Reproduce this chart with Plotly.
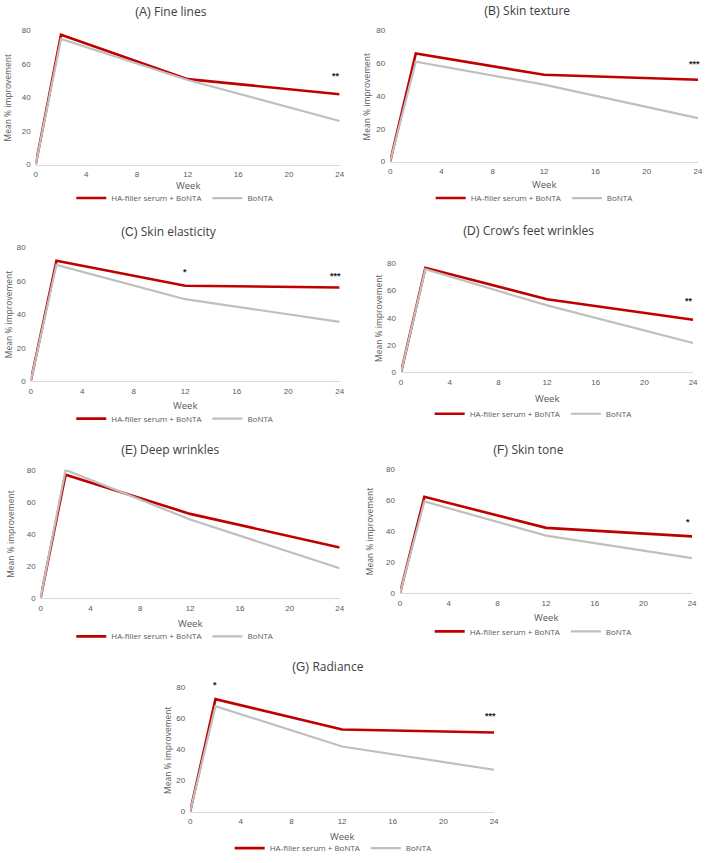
import plotly.graph_objects as go

weeks = [0, 2, 12, 24]
x_ticks = [0, 4, 8, 12, 16, 20, 24]
y_ticks = [0, 20, 40, 60, 80]

panel_letters = ["(A)", "(B)", "(C)", "(D)", "(E)", "(F)", "(G)"]
panel_names = ["Fine lines", "Skin texture", "Skin elasticity", "Crow\u2019s feet wrinkles",
               "Deep wrinkles", "Skin tone", "Radiance"]

ha_serum = [
    [0, 77.5, 51, 42],
    [0, 66, 53, 50],
    [0, 72, 57, 56],
    [0, 76.5, 53.5, 38.5],
    [0, 77, 52.5, 31.5],
    [0, 62, 42, 36.5],
    [0, 72.5, 53, 51],
]
bonta = [
    [0, 75, 50.5, 26],
    [0, 61, 47, 26.5],
    [0, 69.5, 49, 35.5],
    [0, 75.5, 49, 21.5],
    [0, 80, 49, 18.5],
    [0, 59, 37, 22.5],
    [0, 68, 42, 27],
]
# significance marks: (panel index, week, y value, text)
sig_marks = [
    (0, 24, 53, "**"),
    (1, 24, 59.5, "***"),
    (2, 12, 65, "*"),
    (2, 24, 63, "***"),
    (3, 24, 52, "**"),
    (5, 24, 46, "*"),
    (6, 2, 80, "*"),
    (6, 24, 61.5, "***"),
]

W, H = 709, 863
# plot areas in pixels: x0, x1, ytop, ybottom
boxes = [
    (34, 341, 27, 163),
    (392, 703, 27, 160),
    (29, 341, 247, 383),
    (403, 698, 263, 374),
    (39, 341, 473, 603),
    (402, 697, 472, 598),
    (190, 497, 694, 820),
]
titles_pos = [(171, 8), (530, 7), (169, 231), (532, 230), (170, 452), (532, 452), (329, 673)]
legend_pos = [(175, 197), (538, 197), (175, 421), (537, 416), (175, 642), (537, 637), (335, 857)]
ytitle_x = [6, 368, 6, 380, 9, 372, 167]
week_y = [184, 183, 408, 401, 629, 623, 845]

RED = "#C00000"
GRAY = "#BFBFBF"
TXT = "#595959"

fig = go.Figure()
layout = {}
annotations = []
for i in range(7):
    sfx = "" if i == 0 else str(i + 1)
    x0, x1, yt, yb = boxes[i]
    lg = "legend" + sfx
    fig.add_trace(go.Scatter(x=weeks, y=ha_serum[i], mode="lines", name="HA-filler serum + BoNTA",
                             line=dict(color=RED, width=2.6), xaxis="x" + sfx, yaxis="y" + sfx,
                             legend=lg))
    fig.add_trace(go.Scatter(x=weeks, y=bonta[i], mode="lines", name="BoNTA",
                             line=dict(color=GRAY, width=2.2), xaxis="x" + sfx, yaxis="y" + sfx,
                             legend=lg))
    layout["xaxis" + sfx] = dict(domain=[x0 / W, x1 / W], anchor="y" + sfx, range=[0, 24],
                                 tickvals=x_ticks, showgrid=False, zeroline=False,
                                 showline=True, linecolor="#D9D9D9", linewidth=1,
                                 tickfont=dict(size=8, color=TXT, family="Liberation Sans"),
                                 ticks="", ticklabelstandoff=2, ticklabeloverflow="allow")
    layout["yaxis" + sfx] = dict(domain=[1 - yb / H, 1 - yt / H], anchor="x" + sfx, range=[0, 80],
                                 tickvals=y_ticks, showgrid=False, zeroline=False, showline=False,
                                 tickfont=dict(size=8, color=TXT, family="Liberation Sans"),
                                 ticks="", ticklabelstandoff=4, ticklabeloverflow="allow")
    layout[lg] = dict(orientation="h", x=legend_pos[i][0] / W, y=1 - legend_pos[i][1] / H,
                      xanchor="center", yanchor="middle", bgcolor="rgba(0,0,0,0)",
                      font=dict(size=8, color=TXT, family="Open Sans"),
                      itemwidth=30, tracegroupgap=0)
    tx, ty = titles_pos[i]
    annotations.append(dict(text="<span style='font-family:Liberation Sans'>" + panel_letters[i] +
                                 "</span> " + panel_names[i],
                            x=tx / W, y=1 - ty / H, xref="paper", yref="paper", showarrow=False,
                            xanchor="center", yanchor="middle",
                            font=dict(size=12, color="#404040", family="Open Sans")))
    annotations.append(dict(text="Mean % improvement", textangle=-90,
                            x=ytitle_x[i] / W, y=1 - (yt + yb) / 2 / H, xref="paper", yref="paper",
                            showarrow=False, xanchor="center", yanchor="middle",
                            font=dict(size=8.5, color=TXT, family="Open Sans")))
    annotations.append(dict(text="Week", x=(x0 + x1) / 2 / W, y=1 - week_y[i] / H,
                            xref="paper", yref="paper", showarrow=False,
                            xanchor="center", yanchor="middle",
                            font=dict(size=9.5, color=TXT, family="Open Sans")))

for (pi, wk, yv, txt) in sig_marks:
    sfx = "" if pi == 0 else str(pi + 1)
    annotations.append(dict(text="<b>" + txt + "</b>", x=wk, y=yv, xref="x" + sfx, yref="y" + sfx,
                            showarrow=False, xanchor="center", yanchor="middle",
                            xshift=-4 if wk == 24 else 0, yshift=3 if yv >= 80 else 0,
                            font=dict(size=9, color="#222222", family="Liberation Sans")))

fig.update_layout(**layout)
fig.update_layout(width=W, height=H, margin=dict(l=0, r=0, t=0, b=0),
                  paper_bgcolor="white", plot_bgcolor="white", annotations=annotations,
                  showlegend=True)
fig.write_html("out.html", config={"displayModeBar": False},
               post_script="document.body.style.margin='0px';document.body.style.overflow='hidden';")
